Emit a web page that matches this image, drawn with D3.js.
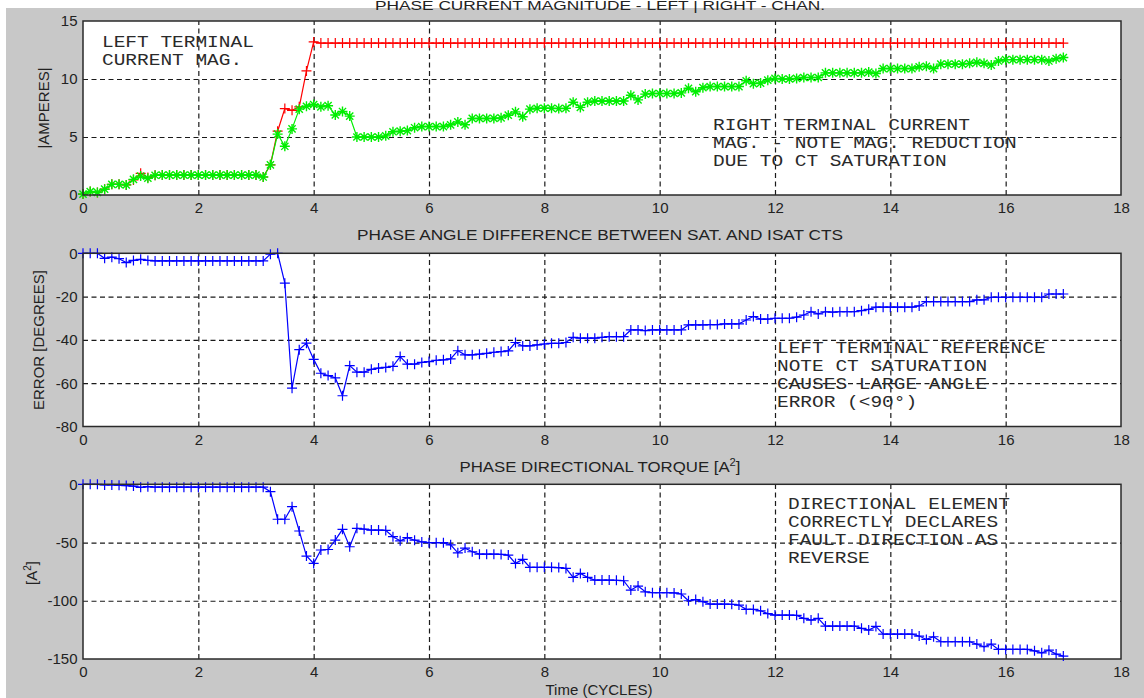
<!DOCTYPE html>
<html><head><meta charset="utf-8">
<script src="https://cdn.jsdelivr.net/npm/d3@7"></script>
<style>body{margin:0;background:#fff;} svg{display:block}</style>
</head><body>
<svg id="c" width="1144" height="698"></svg>
<script>
// ---------- DATA (sampled every 1/8 cycle, t = 0 .. 17) ----------
const dt = 0.125;
const xTicks = [0, 2, 4, 6, 8, 10, 12, 14, 16, 18];
const magTicks = [0, 5, 10, 15];
const angTicks = [0, -20, -40, -60, -80];
const torqTicks = [0, -50, -100, -150];

// Left terminal current magnitude (red)
const leftMag = [
  0.08, 0.3, 0.22, 0.5, 0.92, 0.92, 0.87, 1.3, 1.87, 1.5, 1.7,
  1.72, 1.72, 1.72, 1.72, 1.72, 1.72, 1.72, 1.72, 1.72, 1.72, 1.72, 1.72, 1.72, 1.72,
  1.55, 2.6, 5.5, 7.45, 7.3, 7.6, 10.7, 13.2,
  13.1, 13.1, 13.1, 13.1, 13.1, 13.1, 13.1, 13.1, 13.1, 13.1, 13.1, 13.1, 13.1,
  13.1, 13.1, 13.1, 13.1, 13.1, 13.1, 13.1, 13.1, 13.1, 13.1, 13.1, 13.1, 13.1,
  13.1, 13.1, 13.1, 13.1, 13.1, 13.1, 13.1, 13.1, 13.1, 13.1, 13.1, 13.1, 13.1,
  13.1, 13.1, 13.1, 13.1, 13.1, 13.1, 13.1, 13.1, 13.1, 13.1, 13.1, 13.1, 13.1,
  13.1, 13.1, 13.1, 13.1, 13.1, 13.1, 13.1, 13.1, 13.1, 13.1, 13.1, 13.1, 13.1,
  13.1, 13.1, 13.1, 13.1, 13.1, 13.1, 13.1, 13.1, 13.1, 13.1, 13.1, 13.1, 13.1,
  13.1, 13.1, 13.1, 13.1, 13.1, 13.1, 13.1, 13.1, 13.1, 13.1, 13.1, 13.1, 13.1,
  13.1, 13.1, 13.1, 13.1, 13.1, 13.1, 13.1, 13.1, 13.1, 13.1, 13.1, 13.1, 13.1
];

// Right terminal current magnitude (green, saturated CT)
const rightMag = [
  0.08, 0.3, 0.22, 0.5, 0.92, 0.92, 0.87, 1.35, 1.63, 1.45, 1.7,
  1.72, 1.72, 1.72, 1.72, 1.72, 1.72, 1.72, 1.72, 1.72, 1.72, 1.72, 1.72, 1.72, 1.72,
  1.55, 2.6, 5.25, 4.2, 5.7, 7.4, 7.65, 7.8, 7.6, 7.7, 6.9, 7.2, 6.8,
  5.0, 5.0, 5.0, 5.0, 5.1, 5.45, 5.5, 5.55, 5.8, 5.9, 5.9, 5.9, 5.9,
  6.05, 6.3, 6.05, 6.6, 6.6, 6.6, 6.6, 6.65, 6.88, 7.17, 6.75, 7.4,
  7.48, 7.48, 7.48, 7.45, 7.48, 8.0, 7.55, 8.0, 8.1, 8.1, 8.1, 8.1, 8.1,
  8.6, 8.2, 8.7, 8.75, 8.75, 8.75, 8.75, 8.8, 9.2, 8.9, 9.25,
  9.35, 9.35, 9.35, 9.35, 9.35, 9.85, 9.6, 9.65, 9.9, 10.05, 10.0, 10.0, 10.05,
  10.13, 10.13, 10.13, 10.53, 10.53, 10.53, 10.53, 10.53, 10.53, 10.6, 10.47,
  10.9, 10.9, 10.9, 10.9, 10.9, 11.05, 11.1, 10.9, 11.28, 11.28, 11.28, 11.28,
  11.35, 11.44, 11.35, 11.2, 11.55, 11.67, 11.67, 11.67, 11.67, 11.67, 11.67,
  11.55, 11.75, 11.85
];

// Phase angle error (degrees)
const angleErr = [
  0, 0, 0, -2.3, -1.8, -2.5, -4.3, -3.3, -2.8, -3.3,
  -3.5, -3.5, -3.5, -3.5, -3.5, -3.5, -3.5, -3.5, -3.5, -3.5, -3.5, -3.5, -3.5, -3.5, -3.5, -3.5,
  -0.4, 0, -13.8, -62.3, -44.5, -41.5, -49, -55.4, -56.5, -57.5, -65.8, -51.9,
  -54.9, -54.9, -53.6, -53, -52.7, -52.2, -47.7, -51.2, -51.2, -50.4, -50, -49.4,
  -49.2, -48.8, -45, -46.9, -46.9, -46.6, -46.2, -45.7, -45.4, -45.1, -41.2,
  -42.8, -42.8, -42.3, -41.9, -41.6, -41.6, -41.2, -38.8, -39.2, -39.2, -39.2,
  -38.8, -38.5, -38.5, -38.5, -35.4, -35.4, -35.7, -35.4, -35.4, -35.4, -35.4, -35.4,
  -33.1, -33.1, -33.1, -32.9, -32.9, -32.6, -32.6, -32.6, -30.8, -29.2, -30.4, -30.4,
  -30, -30, -30, -29.5, -28.5, -27, -28, -27, -27.2, -27, -27, -27, -26.5, -25.9,
  -24.9, -24.9, -24.9, -24.9, -24.9, -24.9, -24.3, -22.3,
  -22.3, -22.3, -22.3, -22.3, -22.3, -22.3, -21.5, -21.5,
  -20.3, -20.3, -20.3, -20.3, -20.3, -20.3, -20.3, -20.3, -18.8, -18.8, -18.8
];

// Phase directional torque (A^2)
const torque = [
  0, 0, 0, -0.6, -0.6, -0.8, -1.1, -1.5, -2.6, -2,
  -2.5, -2.5, -2.5, -2.5, -2.5, -2.5, -2.5, -2.5, -2.5, -2.5, -2.5, -2.5, -2.5, -2.5, -2.5, -2.5,
  -6.3, -30, -30, -19.2, -40.1, -61.6, -67.9, -56.4, -56, -47.9, -38.7, -53.6,
  -37.8, -38.5, -39.3, -39.3, -39.6, -45, -48.5, -45.8, -48, -49.5, -50.1, -50.1,
  -50.1, -52, -58.8, -54.8, -57.9, -60, -60, -60, -60.2, -60.8, -67.9, -64.4,
  -71.3, -71.3, -71.3, -71.3, -71.5, -72.2, -79.9, -76.5, -79.9, -82.2, -82.2, -82.2,
  -82.4, -82.8, -90.8, -87.4, -92.3, -93.1, -93.1, -93.1, -93.3, -94.2, -100, -99,
  -100.8, -102.8, -102.8, -102.8, -103, -103.7, -107.4, -107.4, -108.6, -111,
  -112.3, -112.3, -112.3, -112.5, -115.1, -116.6, -115.1, -121.7,
  -121.7, -121.7, -121.7, -121.7, -123.7, -125.2, -122, -128.6,
  -128.6, -128.6, -128.6, -128.6, -130.3, -133.2, -130.9, -135.2,
  -135.2, -135.2, -135.2, -135.2, -137.2, -139.5, -137.2, -141.8,
  -141.8, -141.8, -141.8, -141.8, -143, -144.7, -142.4, -145.8, -147.5
];

const note1 = ["LEFT TERMINAL", "CURRENT MAG."];
const note2 = ["RIGHT TERMINAL CURRENT", "MAG. - NOTE MAG. REDUCTION", "DUE TO CT SATURATION"];
const note3 = ["LEFT TERMINAL REFERENCE", "NOTE CT SATURATION", "CAUSES LARGE ANGLE", "ERROR (<90°)"];
const note4 = ["DIRECTIONAL ELEMENT", "CORRECTLY DECLARES", "FAULT DIRECTION AS", "REVERSE"];

// ---------- DRAWING ----------
const svg = d3.select("#c");
const SANS = "'Liberation Sans', Arial, sans-serif";
const MONO = "'Liberation Mono', 'Courier New', monospace";
const fmt = d => String(d);   // plain hyphen-minus, as in the original

svg.append("rect").attr("x", 6).attr("y", 8).attr("width", 1138).attr("height", 690).attr("fill", "#c8c8c8");

// top title (sits at the very top edge)
svg.append("text").attr("x", 600).attr("y", 10).attr("text-anchor", "middle")
  .attr("font-family", SANS).attr("font-size", 12).attr("fill", "#222")
  .attr("textLength", 450).attr("lengthAdjust", "spacingAndGlyphs")
  .text("PHASE CURRENT MAGNITUDE - LEFT | RIGHT - CHAN.");

const x = d3.scaleLinear().domain([0, 18]).range([83, 1121]);

function panel(top, bottom, domain, yTicks) {
  const y = d3.scaleLinear().domain(domain).range([bottom, top]);
  const g = svg.append("g");
  g.append("rect").attr("x", x(0)).attr("y", top).attr("width", x(18) - x(0))
    .attr("height", bottom - top).attr("fill", "#fff");
  // gridlines
  const vg = g.append("g").attr("transform", `translate(0,${bottom})`)
    .call(d3.axisBottom(x).tickValues(xTicks.slice(1, -1)).tickSize(-(bottom - top)).tickFormat(""));
  const hg = g.append("g").attr("transform", `translate(${x(0)},0)`)
    .call(d3.axisLeft(y).tickValues(yTicks.slice(1, -1)).tickSize(-(x(18) - x(0))).tickFormat(""));
  [vg, hg].forEach(a => {
    a.select(".domain").remove();
    a.selectAll("line").attr("stroke", "#1a1a1a").attr("stroke-width", 1.2).attr("stroke-dasharray", "5,3.5");
  });
  // tick labels
  const xa = g.append("g").attr("transform", `translate(0,${bottom})`)
    .call(d3.axisBottom(x).tickValues(xTicks).tickFormat(fmt).tickSize(0).tickPadding(7.5));
  const ya = g.append("g").attr("transform", `translate(${x(0)},0)`)
    .call(d3.axisLeft(y).tickValues(yTicks).tickFormat(fmt).tickSize(0).tickPadding(5.5));
  [xa, ya].forEach(a => {
    a.select(".domain").remove();
    a.selectAll("text").attr("font-family", SANS).attr("font-size", 15).attr("fill", "#222");
  });
  return { g, y, top, bottom };
}

const plus = "M-5,0H5M0,-5V5";
const star = "M-5,0H5M0,-5V5M-3.6,-3.6L3.6,3.6M-3.6,3.6L3.6,-3.6";

function series(p, vals, color, marker, sw) {
  const pts = vals.map((v, i) => [i * dt, v]);
  p.g.append("path").datum(pts)
    .attr("d", d3.line().x(d => x(d[0])).y(d => p.y(d[1])))
    .attr("fill", "none").attr("stroke", color).attr("stroke-width", 1.2);
  p.g.append("g").selectAll("path").data(pts).join("path")
    .attr("transform", d => `translate(${x(d[0])},${p.y(d[1])})`)
    .attr("d", marker).attr("fill", "none").attr("stroke", color).attr("stroke-width", sw);
}

function frame(p) {
  p.g.append("rect").attr("x", x(0)).attr("y", p.top).attr("width", x(18) - x(0))
    .attr("height", p.bottom - p.top).attr("fill", "none").attr("stroke", "#2a2a2a").attr("stroke-width", 1.5);
}

function note(lines, x0, y0) {
  lines.forEach((s, i) => {
    svg.append("text").attr("x", x0).attr("y", y0 + i * 18.1)
      .attr("font-family", MONO).attr("font-size", 17).attr("fill", "#2a2a2a")
      .attr("textLength", s.length * 11.68).attr("lengthAdjust", "spacingAndGlyphs")
      .attr("xml:space", "preserve").text(s);
  });
}

// Panel 1
const p1 = panel(21, 195, [0, 15], magTicks);
series(p1, leftMag, "#ff0000", plus, 1.2);
series(p1, rightMag, "#00ee00", star, 1.4);
frame(p1);
note(note1, 102, 47);
note(note2, 713, 130);

// Panel 2
const p2 = panel(253.3, 426.5, [-80, 0], angTicks);
series(p2, angleErr, "#0000ff", plus, 1.2);
frame(p2);
note(note3, 777, 353);
svg.append("text").attr("x", 600).attr("y", 240).attr("text-anchor", "middle")
  .attr("font-family", SANS).attr("font-size", 15).attr("fill", "#222")
  .attr("textLength", 486).attr("lengthAdjust", "spacingAndGlyphs")
  .text("PHASE ANGLE DIFFERENCE BETWEEN SAT. AND ISAT CTS");

// Panel 3
const p3 = panel(484.3, 659, [-150, 0], torqTicks);
series(p3, torque, "#0000ff", plus, 1.2);
frame(p3);
note(note4, 788, 509);
const t3 = svg.append("text").attr("transform", "translate(600,472) scale(1.12,1)")
  .attr("text-anchor", "middle").attr("font-family", SANS).attr("font-size", 15).attr("fill", "#222");
t3.append("tspan").text("PHASE DIRECTIONAL TORQUE [A");
t3.append("tspan").attr("font-size", 10).attr("dy", -6).text("2");
t3.append("tspan").attr("dy", 6).text("]");

// Axis labels
function ylab(tx, ty, build) {
  const t = svg.append("text").attr("transform", `translate(${tx},${ty}) rotate(-90)`)
    .attr("text-anchor", "middle").attr("font-family", SANS).attr("font-size", 15).attr("fill", "#222");
  build(t);
}
ylab(49, 108, t => t.text("|AMPERES|"));
ylab(44, 340, t => t.text("ERROR [DEGREES]"));
ylab(37, 573, t => {
  t.append("tspan").text("[A");
  t.append("tspan").attr("font-size", 10).attr("dy", -6).text("2");
  t.append("tspan").attr("dy", 6).text("]");
});
svg.append("text").attr("x", 599).attr("y", 695).attr("text-anchor", "middle")
  .attr("font-family", SANS).attr("font-size", 15).attr("fill", "#222").text("Time (CYCLES)");
</script>
</body></html>
